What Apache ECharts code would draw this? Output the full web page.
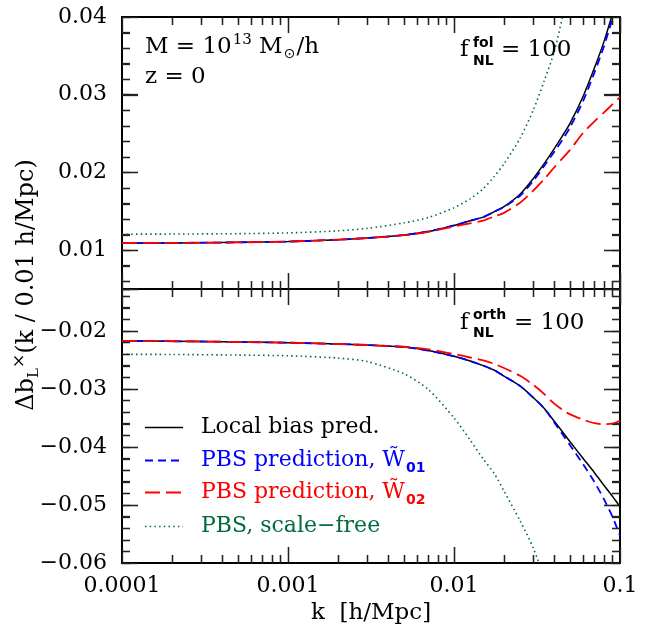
<!DOCTYPE html>
<html><head><meta charset="utf-8">
<script src="https://cdn.jsdelivr.net/npm/echarts@6/dist/echarts.min.js"></script>
<style>html,body{margin:0;padding:0;background:#fff}#c{width:647px;height:631px}</style>
</head><body><div id="c"></div>
<script>
// ---------- data ----------
const kValues = [0.0001, 0.0002, 0.0005, 0.001, 0.002, 0.003, 0.005, 0.007, 0.01, 0.0125, 0.015, 0.0175, 0.02, 0.025, 0.03, 0.035, 0.04, 0.045, 0.05, 0.06, 0.07, 0.08, 0.09, 0.1];

// top panel (f_NL^fol = 100)
const localTop = [0.01090,0.01093,0.01100,0.01110,0.01135,0.01155,0.01195,0.01240,0.01318,0.01377,0.01425,0.01495,0.01560,0.01720,0.01920,0.02116,0.02300,0.02470,0.02630,0.02980,0.03340,0.03680,0.04040,0.04390];
const w01Top   = [0.01090,0.01093,0.01100,0.01110,0.01135,0.01155,0.01195,0.01240,0.01318,0.01377,0.01425,0.01495,0.01555,0.01700,0.01890,0.02086,0.02260,0.02420,0.02580,0.02920,0.03280,0.03620,0.03980,0.04330];
const w02Top   = [0.01090,0.01093,0.01100,0.01110,0.01135,0.01155,0.01192,0.01235,0.01305,0.01345,0.01380,0.01435,0.01480,0.01610,0.01765,0.01915,0.02060,0.02180,0.02290,0.02510,0.02655,0.02770,0.02875,0.02970];
const freeTop  = [0.01205,0.01207,0.01212,0.01222,0.01248,0.01280,0.01350,0.01420,0.01545,0.01660,0.01790,0.01950,0.02110,0.02440,0.02800,0.03180,0.03540,0.04000,0.04500,null,null,null,null,null];

// bottom panel (f_NL^orth = 100)
const localBot = [-0.02174,-0.02180,-0.02192,-0.02205,-0.02228,-0.02245,-0.02280,-0.02340,-0.02440,-0.02520,-0.02600,-0.02680,-0.02780,-0.02950,-0.03150,-0.03340,-0.03550,-0.03740,-0.03910,-0.04200,-0.04440,-0.04660,-0.04850,-0.05030];
const w01Bot   = [-0.02174,-0.02180,-0.02192,-0.02205,-0.02228,-0.02245,-0.02280,-0.02340,-0.02440,-0.02520,-0.02600,-0.02680,-0.02780,-0.02950,-0.03150,-0.03340,-0.03570,-0.03780,-0.03970,-0.04300,-0.04600,-0.04900,-0.05200,-0.05530];
const w02Bot   = [-0.02174,-0.02180,-0.02192,-0.02205,-0.02228,-0.02245,-0.02275,-0.02320,-0.02400,-0.02460,-0.02510,-0.02570,-0.02640,-0.02775,-0.02930,-0.03090,-0.03250,-0.03360,-0.03440,-0.03530,-0.03590,-0.03610,-0.03600,-0.03550];
const freeBot  = [-0.02405,-0.02408,-0.02418,-0.02430,-0.02470,-0.02530,-0.02740,-0.03010,-0.03500,-0.03880,-0.04210,-0.04460,-0.04760,-0.05270,-0.05740,-0.06250,null,null,null,null,null,null,null,null];

// ticks and labels
const xMajorTicks = [0.0001, 0.001, 0.01, 0.1];
const xTickLabels = ['0.0001', '0.001', '0.01', '0.1'];
const xInnerMajor = [0.001, 0.01];
const xMinorTicks = [0.0002,0.0003,0.0004,0.0005,0.0006,0.0007,0.0008,0.0009,0.002,0.003,0.004,0.005,0.006,0.007,0.008,0.009,0.02,0.03,0.04,0.05,0.06,0.07,0.08,0.09];
const topYTicks = [0.01, 0.02, 0.03, 0.04];
const topYLabels = ['0.01', '0.02', '0.03', '0.04'];
const topYMinor = [0.006,0.008,0.012,0.014,0.016,0.018,0.022,0.024,0.026,0.028,0.032,0.034,0.036,0.038];
const botYTicks = [-0.06, -0.05, -0.04, -0.03, -0.02];
const botYLabels = ['\u22120.06', '\u22120.05', '\u22120.04', '\u22120.03', '\u22120.02'];
const botYMinor = [-0.058,-0.056,-0.054,-0.052,-0.048,-0.046,-0.044,-0.042,-0.038,-0.036,-0.034,-0.032,-0.028,-0.026,-0.024,-0.022,-0.018,-0.016,-0.014];

const seriesNames = ['Local bias pred.', 'PBS prediction, W\u0303', 'PBS prediction, W\u0303', 'PBS, scale\u2212free'];
const seriesSubs = ['', '01', '02', ''];

// ---------- style ----------
const FONT = 'DejaVu Serif';
const GREEN = '#006b3c';
const TICK_COLOR = '#222';
const colors = ['#000', '#0000ff', '#ff0000', GREEN];
const widths = [1.5, 1.8, 1.8, 1.6];
const dashes = [null, [8, 5], [15, 6], [1.5, 3.2]];

const measureCtx = document.createElement('canvas').getContext('2d');
function textW(t, size, family, weight) {
  measureCtx.font = (weight || 'normal') + ' ' + size + 'px "' + (family || FONT) + '"';
  return measureCtx.measureText(t).width;
}
function pickLabel(v, vals, labels) {
  let bi = -1, bd = Infinity;
  vals.forEach((t, i) => { const d = Math.abs(t - v); if (d < bd) { bd = d; bi = i; } });
  return bd < 1e-6 ? labels[bi] : '';
}
function pickLog(v) {
  let bi = 0, bd = Infinity;
  xMajorTicks.forEach((t, i) => { const d = Math.abs(Math.log(t) - Math.log(v)); if (d < bd) { bd = d; bi = i; } });
  return bd < 0.01 ? xTickLabels[bi] : '';
}
const lineOn = () => ({ show: true, onZero: false, lineStyle: { color: '#000', width: 2 } });
const tickSt = () => ({ color: TICK_COLOR, width: 1.3 });

function xMajor(g, pos, labels) {
  return {
    type: 'log', logBase: 10, gridIndex: g, position: pos, min: 0.0001, max: 0.1,
    axisLine: lineOn(),
    axisTick: { show: true, inside: true, length: 16, lineStyle: tickSt() },
    axisLabel: labels ? { show: true, margin: 12, fontFamily: FONT, fontSize: 22, color: '#000', formatter: v => pickLog(v) } : { show: false },
    splitLine: { show: false }
  };
}
function xMinor(g, pos) {
  return {
    type: 'log', logBase: 10, gridIndex: g, position: pos, min: 0.0001, max: 0.1,
    axisLine: lineOn(),
    axisTick: { show: true, inside: true, length: 8, customValues: xMinorTicks, lineStyle: tickSt() },
    axisLabel: { show: false }, splitLine: { show: false }
  };
}
function yMajor(g, pos, min, max, interval, lv, lt) {
  const a = {
    type: 'value', gridIndex: g, position: pos, min: min, max: max,
    axisLine: lineOn(),
    axisTick: { show: true, inside: true, length: 16, lineStyle: tickSt() },
    axisLabel: lv ? { show: true, margin: 15, fontFamily: FONT, fontSize: 22, color: '#000', formatter: v => pickLabel(v, lv, lt) } : { show: false },
    splitLine: { show: false }
  };
  if (interval) a.interval = interval;
  return a;
}
function yMinor(g, pos, min, max, inverse) {
  return {
    type: 'value', gridIndex: g, position: pos, min: min, max: max, interval: 0.002, inverse: inverse,
    axisLine: lineOn(),
    axisTick: { show: true, inside: true, length: 8, lineStyle: tickSt() },
    axisLabel: { show: false }, splitLine: { show: false }
  };
}
// x: grid0 -> 0..3, grid1 -> 4..7 ; y: grid0 -> 0..3, grid1 -> 4..7 (index 0 / 4 carry the data)
const xAxes = [
  xMajor(0, 'bottom', false), xMajor(0, 'top', false), xMinor(0, 'bottom'), xMinor(0, 'top'),
  xMajor(1, 'bottom', true), xMajor(1, 'top', false), xMinor(1, 'bottom'), xMinor(1, 'top')
];
// top panel minor-tick axes are mirrored (negated, inverse) so their minimum -0.04 is a multiple of 0.002
const yAxes = [
  yMajor(0, 'left', 0.005, 0.04, null, topYTicks, topYLabels), yMajor(0, 'right', 0.005, 0.04, null),
  yMinor(0, 'left', -0.04, -0.005, true), yMinor(0, 'right', -0.04, -0.005, true),
  yMajor(1, 'left', -0.06, -0.0128, 0.01, botYTicks, botYLabels), yMajor(1, 'right', -0.06, -0.0128, 0.01),
  yMinor(1, 'left', -0.06, -0.0128, false), yMinor(1, 'right', -0.06, -0.0128, false)
];

function pairs(vals) { return kValues.map((k, i) => [k, vals[i]]).filter(p => p[1] !== null); }
const series = [];
[[localTop, w01Top, w02Top, freeTop], [localBot, w01Bot, w02Bot, freeBot]].forEach((set, g) => {
  set.forEach((vals, i) => {
    series.push({
      type: 'line', xAxisIndex: g * 4, yAxisIndex: g * 4,
      data: pairs(vals), showSymbol: false, symbol: 'none', clip: true, smooth: 0.25,
      lineStyle: { color: colors[i], width: widths[i], type: dashes[i] || 'solid' },
      z: 2 + i, silent: true
    });
  });
});
// extra tick marks through the data axes' scales (same positions as the axis ticks)
function tickSeries(g, dim, values, len, ref) {
  return {
    type: 'custom', xAxisIndex: g * 4, yAxisIndex: g * 4, silent: true, clip: false, z: 10,
    data: values.map(v => dim === 'x' ? [v, ref] : [ref, v]),
    renderItem: function (params, api) {
      const cs = params.coordSys;
      const p = api.coord([api.value(0), api.value(1)]);
      const st = { stroke: TICK_COLOR, lineWidth: 1.3 };
      if (dim === 'x') {
        const x = Math.round(p[0]) + 0.5;
        return { type: 'group', children: [
          { type: 'line', shape: { x1: x, y1: cs.y, x2: x, y2: cs.y + len }, style: st },
          { type: 'line', shape: { x1: x, y1: cs.y + cs.height, x2: x, y2: cs.y + cs.height - len }, style: st }
        ] };
      }
      const y = Math.round(p[1]) + 0.5;
      return { type: 'group', children: [
        { type: 'line', shape: { x1: cs.x, y1: y, x2: cs.x + len, y2: y }, style: st },
        { type: 'line', shape: { x1: cs.x + cs.width, y1: y, x2: cs.x + cs.width - len, y2: y }, style: st }
      ] };
    }
  };
}
series.push(
  tickSeries(0, 'x', xInnerMajor, 16, 0.02), tickSeries(0, 'x', xMinorTicks, 8, 0.02),
  tickSeries(0, 'y', topYTicks.slice(0, 3), 16, 0.001), tickSeries(0, 'y', topYMinor, 8, 0.001),
  tickSeries(1, 'x', xInnerMajor, 16, -0.03), tickSeries(1, 'x', xMinorTicks, 8, -0.03),
  tickSeries(1, 'y', botYTicks.slice(1), 16, 0.001), tickSeries(1, 'y', botYMinor, 8, 0.001)
);

// ---------- text (plain pieces, no rich text) ----------
const T = (x, y, t, o) => ({ type: 'text', x: x, y: y, silent: true, rotation: (o && o.rot) || 0, z: 20,
  style: { text: t, fontFamily: (o && o.family) || FONT, fontWeight: (o && o.weight) || 'normal', fontSize: (o && o.size) || 23,
           fill: (o && o.color) || '#000', align: (o && o.align) || 'left', verticalAlign: 'middle' } });
const graphic = [];

// legend (sample line + label), drawn as graphic
const legendRows = [427, 460, 492, 526];
seriesNames.forEach((name, i) => {
  const y = legendRows[i];
  const st = { stroke: colors[i], lineWidth: widths[i] };
  if (dashes[i]) st.lineDash = dashes[i];
  graphic.push({ type: 'line', silent: true, z: 20, shape: { x1: 145, y1: y + 0.5, x2: 183, y2: y + 0.5 }, style: st });
  graphic.push(T(201, y, name, { size: 22, color: colors[i] }));
  if (seriesSubs[i]) {
    const w = textW(name, 22);
    graphic.push(T(201 + w + 1, y + 8, seriesSubs[i], { size: 14, family: 'DejaVu Sans', weight: 'bold', color: colors[i] }));
  }
});

// M = 10^13 M_sun/h
(function () {
  let x = 145; const y = 47;
  const w1 = textW('M = 10', 23); graphic.push(T(x, y, 'M = 10')); x += w1 + 1;
  graphic.push(T(x, y - 7, '13', { size: 15 })); x += textW('13', 15);
  graphic.push(T(x, y, ' M')); x += textW(' M', 23) + 1;
  graphic.push(T(x, y + 7, '\u2299', { size: 14, family: 'DejaVu Sans' })); x += textW('\u2299', 14, 'DejaVu Sans') + 1;
  graphic.push(T(x, y, '/h'));
})();
graphic.push(T(145, 77, 'z = 0'));
const sm = { size: 14, family: 'DejaVu Sans', weight: 'bold' };
graphic.push(T(460, 50, 'f'), T(473, 43, 'fol', sm), T(473, 61, 'NL', sm), T(501, 50, '= 100'));
graphic.push(T(460, 323, 'f'), T(473, 315, 'orth', sm), T(473, 333, 'NL', sm), T(514, 323, '= 100'));
graphic.push(T(371, 613, 'k  [h/Mpc]', { align: 'center' }));

// rotated y title: Δb_L^×(k / 0.01 h/Mpc)
(function () {
  const parts = [
    { t: '\u0394b', size: 24, dx: 0 },
    { t: 'L', size: 15, dx: 7 },
    { t: '\u00d7', size: 17, dx: -7 },
    { t: '(k / 0.01 h/Mpc)', size: 24, dx: 0 }
  ];
  const ws = parts.map(p => textW(p.t, p.size));
  const total = ws.reduce((a, b) => a + b, 0);
  let y = 285 + total / 2;
  parts.forEach((p, i) => {
    graphic.push(T(27 + p.dx, y, p.t, { size: p.size, rot: Math.PI / 2 }));
    y -= ws[i];
  });
})();

const chart = echarts.init(document.getElementById('c'), null, { renderer: 'canvas' });
chart.setOption({
  animation: false,
  backgroundColor: '#fff',
  grid: [
    { left: 122, top: 17, width: 498, height: 272, containLabel: false },
    { left: 122, top: 289, width: 498, height: 274, containLabel: false }
  ],
  xAxis: xAxes,
  yAxis: yAxes,
  series: series,
  graphic: graphic
});
</script></body></html>
